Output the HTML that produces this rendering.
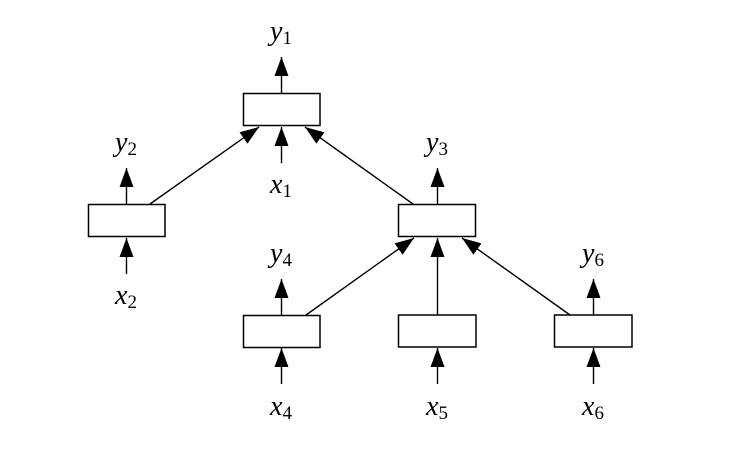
<!DOCTYPE html>
<html><head><style>body{margin:0;background:#fff}svg{display:block}
.t{font-family:"Liberation Serif",serif;font-style:italic;font-size:28px}
.s{font-style:normal;font-size:19px}</style></head>
<body>
<svg width="755" height="462" viewBox="0 0 755 462" xmlns="http://www.w3.org/2000/svg">
<defs>
<marker id="a" markerWidth="19" markerHeight="14" refX="19" refY="7" orient="auto" markerUnits="userSpaceOnUse" viewBox="0 0 19 14">
<path d="M0,0 L19,7 L0,14 Z" fill="#000"/>
</marker>
</defs>
<g fill="#fff" stroke="#000" stroke-width="1.5">
<rect x="243.5" y="93.5" width="76.5" height="32"/>
<rect x="88.5" y="204.5" width="76.5" height="32"/>
<rect x="398.5" y="204.5" width="77" height="32"/>
<rect x="243.5" y="315.5" width="76.5" height="32"/>
<rect x="398.5" y="315" width="77.5" height="32"/>
<rect x="554.5" y="315" width="77.5" height="32"/>
</g>
<g stroke="#000" stroke-width="1.4" marker-end="url(#a)">
<line x1="281.5" y1="93" x2="281.5" y2="57"/>
<line x1="281.5" y1="163" x2="281.5" y2="127"/>
<line x1="126.5" y1="204" x2="126.5" y2="168"/>
<line x1="126.5" y1="274" x2="126.5" y2="238"/>
<line x1="437.5" y1="204" x2="437.5" y2="168"/>
<line x1="281.5" y1="315" x2="281.5" y2="279"/>
<line x1="593.5" y1="315" x2="593.5" y2="279"/>
<line x1="281.5" y1="384" x2="281.5" y2="348"/>
<line x1="437.5" y1="384" x2="437.5" y2="348"/>
<line x1="593.5" y1="384" x2="593.5" y2="348"/>
<line x1="150" y1="204" x2="259" y2="127"/>
<line x1="413" y1="204" x2="305" y2="127"/>
<line x1="306" y1="315" x2="414" y2="238"/>
<line x1="437.5" y1="315" x2="437.5" y2="238"/>
<line x1="570" y1="315" x2="462" y2="238"/>
</g>
<g class="t" text-anchor="middle">
<text x="281" y="40">y<tspan class="s" dy="4">1</tspan></text>
<text x="281" y="193">x<tspan class="s" dy="4">1</tspan></text>
<text x="126" y="151">y<tspan class="s" dy="4">2</tspan></text>
<text x="126" y="304">x<tspan class="s" dy="4">2</tspan></text>
<text x="437" y="151">y<tspan class="s" dy="4">3</tspan></text>
<text x="281" y="262">y<tspan class="s" dy="4">4</tspan></text>
<text x="593" y="262">y<tspan class="s" dy="4">6</tspan></text>
<text x="281" y="415">x<tspan class="s" dy="4">4</tspan></text>
<text x="437" y="415">x<tspan class="s" dy="4">5</tspan></text>
<text x="593" y="415">x<tspan class="s" dy="4">6</tspan></text>
</g>
</svg>
</body></html>
